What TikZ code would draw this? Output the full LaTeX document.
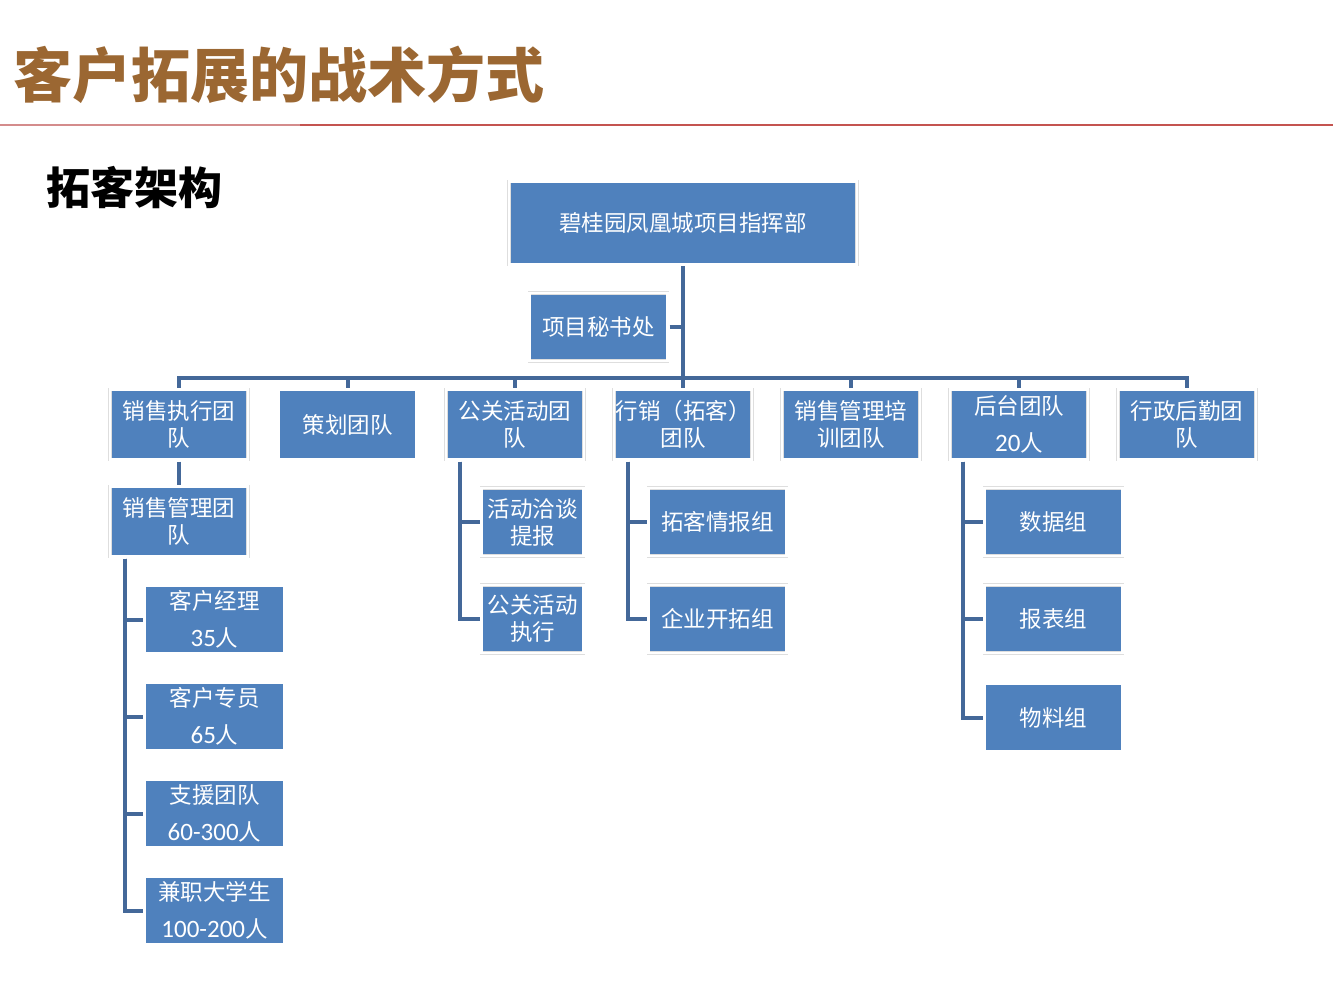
\documentclass[tikz,border=0pt]{standalone}
\usepackage{fontspec}
\setmainfont{Carlito}
\newfontfamily\cjk{Noto Sans CJK SC}
\newfontfamily\latinfont{Carlito}
\definecolor{boxblue}{RGB}{79,129,189}
\definecolor{linkblue}{RGB}{68,104,153}
\definecolor{titlebrown}{RGB}{155,103,50}
\definecolor{rulelight}{RGB}{212,140,140}
\definecolor{rulered}{RGB}{196,84,80}
\newcommand{\headcount}[1]{{\latinfont\fontsize{25}{27}\selectfont #1}}

\begin{document}
\begin{tikzpicture}[x=1pt,y=-1pt,
		box/.style={rectangle, fill=boxblue, draw=black!13, double=white, double distance=2.4pt, line width=0.6pt, outer sep=2pt, inner sep=0pt, text=white, align=center, font=\cjk\fontsize{22.5}{27}\selectfont},
		team/.style={box, minimum width=138pt, minimum height=70pt},
		unit/.style={box, minimum width=138pt, minimum height=68pt},
		link/.style={draw=linkblue, line width=4pt}]
			\useasboundingbox (0,0) rectangle (1333,1000);
			
			% heading
			\node[anchor=west, inner sep=0pt, text=titlebrown, font=\cjk\bfseries\fontsize{59}{59}\selectfont] (title) at (13,75) {客户拓展的战术方式};
			\draw[rulelight, line width=2pt] (0,125) -- (300,125);
			\draw[rulered, line width=2pt] (300,125) -- (1333,125);
			\node[anchor=west, inner sep=0pt, font=\cjk\bfseries\fontsize{44}{44}\selectfont] (subtitle) at (46,188) {拓客架构};
			
			\node[box, minimum width=348pt, minimum height=83pt] (0) at (683,223) {碧桂园凤凰城项目指挥部};
			\node[unit] (1) at (598.5,327) {项目秘书处};
			\coordinate (c) at (683,378);
			
			\node[team] (2) at (179,424.5) {销售执行团\\队};
			\node[team] (3) at (347.5,424.5) {策划团队};
			\node[team] (4) at (515,424.5) {公关活动团\\队};
			\node[team] (5) at (683,424.5) {行销（拓客）\\团队};
			\node[team] (6) at (851,424.5) {销售管理培\\训团队};
			\node[team] (7) at (1019,424.5) {后台团队\\[10pt]\headcount{20}人};
			\node[team] (8) at (1187,424.5) {行政后勤团\\队};
			
			\node[team] (9) at (179,521.5) {销售管理团\\队};
			\node[unit, minimum width=140pt] (10) at (214.5,619.5) {客户经理\\[10pt]\headcount{35}人};
			\node[unit, minimum width=140pt] (11) at (214.5,716.5) {客户专员\\[10pt]\headcount{65}人};
			\node[unit, minimum width=140pt] (12) at (214.5,813.5) {支援团队\\[10pt]\headcount{60-300}人};
			\node[unit, minimum width=140pt] (13) at (214.5,910.5) {兼职大学生\\[10pt]\headcount{100-200}人};
			
			\node[unit, minimum width=102pt] (14) at (532.5,522) {活动洽谈\\提报};
			\node[unit, minimum width=102pt] (15) at (532.5,619) {公关活动\\执行};
			
			\node[unit] (16) at (717.5,522) {拓客情报组};
			\node[unit] (17) at (717.5,619) {企业开拓组};
			
			\node[unit] (18) at (1053.5,522) {数据组};
			\node[unit] (19) at (1053.5,619) {报表组};
			\node[unit] (20) at (1053.5,717.5) {物料组};
			
			\path [link] (0.south) -- (c);
			\path [link] (1.east) -- (1.east -| c);
			\path [link] (c) -| (2.north);
			\path [link] (c) -| (3.north);
			\path [link] (c) -| (4.north);
			\path [link] (c) -| (5.north);
			\path [link] (c) -| (6.north);
			\path [link] (c) -| (7.north);
			\path [link] (c) -| (8.north);
			\path [link] (2.south) -- (9.north);
			\path [link] ([xshift=-54pt]9.south) |- (10.west);
			\path [link] ([xshift=-54pt]9.south) |- (11.west);
			\path [link] ([xshift=-54pt]9.south) |- (12.west);
			\path [link] ([xshift=-54pt]9.south) |- (13.west);
			\path [link] ([xshift=-55pt]4.south) |- (14.west);
			\path [link] ([xshift=-55pt]4.south) |- (15.west);
			\path [link] ([xshift=-55pt]5.south) |- (16.west);
			\path [link] ([xshift=-55pt]5.south) |- (17.west);
			\path [link] ([xshift=-56pt]7.south) |- (18.west);
			\path [link] ([xshift=-56pt]7.south) |- (19.west);
			\path [link] ([xshift=-56pt]7.south) |- (20.west);
		\end{tikzpicture}
\end{document}
